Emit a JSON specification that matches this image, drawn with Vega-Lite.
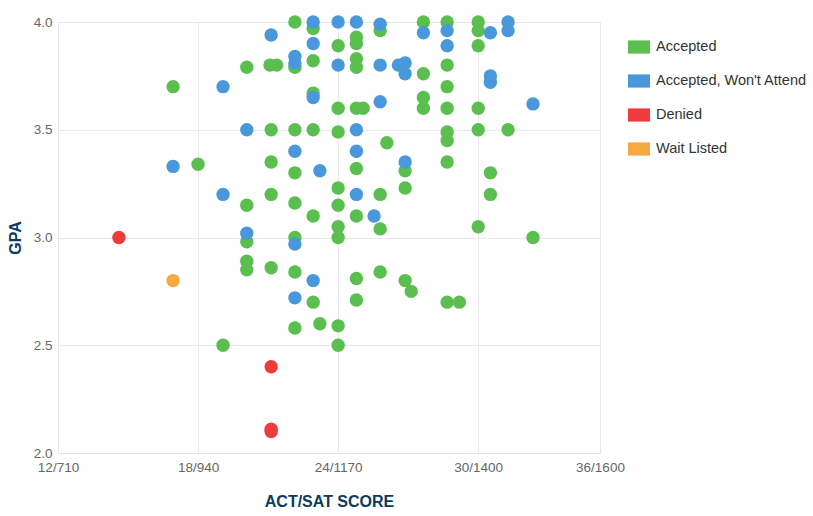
{
  "$schema": "https://vega.github.io/schema/vega-lite/v6.json",
  "width": 542,
  "height": 431,
  "autosize": "none",
  "padding": {"left": 58, "top": 22, "right": 213, "bottom": 63},
  "background": "white",
  "config": {
    "view": {"stroke": null},
    "font": "Liberation Sans"
  },
  "data": {
    "values": [
      {"status": "Accepted", "sat": 899, "gpa": 3.70},
      {"status": "Accepted", "sat": 1020, "gpa": 3.79},
      {"status": "Accepted", "sat": 1058, "gpa": 3.80},
      {"status": "Accepted", "sat": 1069, "gpa": 3.80},
      {"status": "Accepted", "sat": 1099, "gpa": 3.79},
      {"status": "Accepted", "sat": 1099, "gpa": 4.00},
      {"status": "Accepted", "sat": 1129, "gpa": 3.97},
      {"status": "Accepted", "sat": 1129, "gpa": 3.82},
      {"status": "Accepted", "sat": 1129, "gpa": 3.67},
      {"status": "Accepted", "sat": 1060, "gpa": 3.50},
      {"status": "Accepted", "sat": 1099, "gpa": 3.50},
      {"status": "Accepted", "sat": 1129, "gpa": 3.50},
      {"status": "Accepted", "sat": 1060, "gpa": 3.35},
      {"status": "Accepted", "sat": 1099, "gpa": 3.30},
      {"status": "Accepted", "sat": 940, "gpa": 3.34},
      {"status": "Accepted", "sat": 1020, "gpa": 3.15},
      {"status": "Accepted", "sat": 1060, "gpa": 3.20},
      {"status": "Accepted", "sat": 1099, "gpa": 3.16},
      {"status": "Accepted", "sat": 1129, "gpa": 3.10},
      {"status": "Accepted", "sat": 1020, "gpa": 2.98},
      {"status": "Accepted", "sat": 1020, "gpa": 2.89},
      {"status": "Accepted", "sat": 1020, "gpa": 2.85},
      {"status": "Accepted", "sat": 1060, "gpa": 2.86},
      {"status": "Accepted", "sat": 1099, "gpa": 3.00},
      {"status": "Accepted", "sat": 1099, "gpa": 2.84},
      {"status": "Accepted", "sat": 1129, "gpa": 2.70},
      {"status": "Accepted", "sat": 1140, "gpa": 2.60},
      {"status": "Accepted", "sat": 1099, "gpa": 2.58},
      {"status": "Accepted", "sat": 981, "gpa": 2.50},
      {"status": "Accepted", "sat": 1170, "gpa": 3.89},
      {"status": "Accepted", "sat": 1200, "gpa": 3.93},
      {"status": "Accepted", "sat": 1200, "gpa": 3.90},
      {"status": "Accepted", "sat": 1200, "gpa": 3.83},
      {"status": "Accepted", "sat": 1200, "gpa": 3.79},
      {"status": "Accepted", "sat": 1239, "gpa": 3.96},
      {"status": "Accepted", "sat": 1310, "gpa": 4.00},
      {"status": "Accepted", "sat": 1310, "gpa": 3.76},
      {"status": "Accepted", "sat": 1349, "gpa": 4.00},
      {"status": "Accepted", "sat": 1349, "gpa": 3.80},
      {"status": "Accepted", "sat": 1349, "gpa": 3.70},
      {"status": "Accepted", "sat": 1349, "gpa": 3.60},
      {"status": "Accepted", "sat": 1400, "gpa": 4.00},
      {"status": "Accepted", "sat": 1400, "gpa": 3.96},
      {"status": "Accepted", "sat": 1400, "gpa": 3.89},
      {"status": "Accepted", "sat": 1170, "gpa": 3.60},
      {"status": "Accepted", "sat": 1200, "gpa": 3.60},
      {"status": "Accepted", "sat": 1211, "gpa": 3.60},
      {"status": "Accepted", "sat": 1310, "gpa": 3.65},
      {"status": "Accepted", "sat": 1310, "gpa": 3.60},
      {"status": "Accepted", "sat": 1400, "gpa": 3.60},
      {"status": "Accepted", "sat": 1170, "gpa": 3.49},
      {"status": "Accepted", "sat": 1250, "gpa": 3.44},
      {"status": "Accepted", "sat": 1349, "gpa": 3.49},
      {"status": "Accepted", "sat": 1349, "gpa": 3.45},
      {"status": "Accepted", "sat": 1400, "gpa": 3.50},
      {"status": "Accepted", "sat": 1449, "gpa": 3.50},
      {"status": "Accepted", "sat": 1280, "gpa": 3.31},
      {"status": "Accepted", "sat": 1349, "gpa": 3.35},
      {"status": "Accepted", "sat": 1420, "gpa": 3.30},
      {"status": "Accepted", "sat": 1200, "gpa": 3.32},
      {"status": "Accepted", "sat": 1170, "gpa": 3.23},
      {"status": "Accepted", "sat": 1239, "gpa": 3.20},
      {"status": "Accepted", "sat": 1280, "gpa": 3.23},
      {"status": "Accepted", "sat": 1420, "gpa": 3.20},
      {"status": "Accepted", "sat": 1170, "gpa": 3.15},
      {"status": "Accepted", "sat": 1200, "gpa": 3.10},
      {"status": "Accepted", "sat": 1170, "gpa": 3.05},
      {"status": "Accepted", "sat": 1170, "gpa": 3.00},
      {"status": "Accepted", "sat": 1239, "gpa": 3.04},
      {"status": "Accepted", "sat": 1400, "gpa": 3.05},
      {"status": "Accepted", "sat": 1490, "gpa": 3.00},
      {"status": "Accepted", "sat": 1170, "gpa": 2.59},
      {"status": "Accepted", "sat": 1170, "gpa": 2.50},
      {"status": "Accepted", "sat": 1200, "gpa": 2.81},
      {"status": "Accepted", "sat": 1200, "gpa": 2.71},
      {"status": "Accepted", "sat": 1239, "gpa": 2.84},
      {"status": "Accepted", "sat": 1280, "gpa": 2.80},
      {"status": "Accepted", "sat": 1290, "gpa": 2.75},
      {"status": "Accepted", "sat": 1349, "gpa": 2.70},
      {"status": "Accepted", "sat": 1369, "gpa": 2.70},
      {"status": "Accepted, Won't Attend", "sat": 981, "gpa": 3.70},
      {"status": "Accepted, Won't Attend", "sat": 1060, "gpa": 3.94},
      {"status": "Accepted, Won't Attend", "sat": 1099, "gpa": 3.84},
      {"status": "Accepted, Won't Attend", "sat": 1099, "gpa": 3.81},
      {"status": "Accepted, Won't Attend", "sat": 1129, "gpa": 4.00},
      {"status": "Accepted, Won't Attend", "sat": 1129, "gpa": 3.90},
      {"status": "Accepted, Won't Attend", "sat": 1129, "gpa": 3.65},
      {"status": "Accepted, Won't Attend", "sat": 1020, "gpa": 3.50},
      {"status": "Accepted, Won't Attend", "sat": 1099, "gpa": 3.40},
      {"status": "Accepted, Won't Attend", "sat": 1140, "gpa": 3.31},
      {"status": "Accepted, Won't Attend", "sat": 899, "gpa": 3.33},
      {"status": "Accepted, Won't Attend", "sat": 981, "gpa": 3.20},
      {"status": "Accepted, Won't Attend", "sat": 1020, "gpa": 3.02},
      {"status": "Accepted, Won't Attend", "sat": 1099, "gpa": 2.97},
      {"status": "Accepted, Won't Attend", "sat": 1129, "gpa": 2.80},
      {"status": "Accepted, Won't Attend", "sat": 1099, "gpa": 2.72},
      {"status": "Accepted, Won't Attend", "sat": 1170, "gpa": 4.00},
      {"status": "Accepted, Won't Attend", "sat": 1200, "gpa": 4.00},
      {"status": "Accepted, Won't Attend", "sat": 1170, "gpa": 3.80},
      {"status": "Accepted, Won't Attend", "sat": 1239, "gpa": 3.99},
      {"status": "Accepted, Won't Attend", "sat": 1239, "gpa": 3.80},
      {"status": "Accepted, Won't Attend", "sat": 1269, "gpa": 3.80},
      {"status": "Accepted, Won't Attend", "sat": 1280, "gpa": 3.81},
      {"status": "Accepted, Won't Attend", "sat": 1280, "gpa": 3.76},
      {"status": "Accepted, Won't Attend", "sat": 1310, "gpa": 3.95},
      {"status": "Accepted, Won't Attend", "sat": 1349, "gpa": 3.96},
      {"status": "Accepted, Won't Attend", "sat": 1349, "gpa": 3.89},
      {"status": "Accepted, Won't Attend", "sat": 1420, "gpa": 3.95},
      {"status": "Accepted, Won't Attend", "sat": 1449, "gpa": 4.00},
      {"status": "Accepted, Won't Attend", "sat": 1449, "gpa": 3.96},
      {"status": "Accepted, Won't Attend", "sat": 1420, "gpa": 3.75},
      {"status": "Accepted, Won't Attend", "sat": 1420, "gpa": 3.72},
      {"status": "Accepted, Won't Attend", "sat": 1490, "gpa": 3.62},
      {"status": "Accepted, Won't Attend", "sat": 1239, "gpa": 3.63},
      {"status": "Accepted, Won't Attend", "sat": 1200, "gpa": 3.50},
      {"status": "Accepted, Won't Attend", "sat": 1200, "gpa": 3.40},
      {"status": "Accepted, Won't Attend", "sat": 1280, "gpa": 3.35},
      {"status": "Accepted, Won't Attend", "sat": 1200, "gpa": 3.20},
      {"status": "Accepted, Won't Attend", "sat": 1229, "gpa": 3.10},
      {"status": "Denied", "sat": 810, "gpa": 3.00},
      {"status": "Denied", "sat": 1060, "gpa": 2.40},
      {"status": "Denied", "sat": 1060, "gpa": 2.11},
      {"status": "Denied", "sat": 1060, "gpa": 2.10},
      {"status": "Wait Listed", "sat": 899, "gpa": 2.80}
    ]
  },
  "mark": {"type": "point", "shape": "circle", "filled": true, "size": 180, "opacity": 1},
  "encoding": {
    "x": {
      "field": "sat",
      "type": "quantitative",
      "scale": {"domain": [710, 1600], "nice": false, "zero": false},
      "axis": {
        "title": "ACT/SAT SCORE",
        "values": [710, 940, 1170, 1400, 1600],
        "labelExpr": "datum.value == 710 ? '12/710' : datum.value == 940 ? '18/940' : datum.value == 1170 ? '24/1170' : datum.value == 1400 ? '30/1400' : '36/1600'",
        "grid": true,
        "gridColor": "#e6e9ef",
        "domainColor": "#dfe5ee",
        "ticks": false,
        "labelColor": "#666666",
        "labelFontSize": 13.5,
        "labelPadding": 7,
        "labelFlush": false,
        "titleFontSize": 16,
        "titleFontWeight": "bold",
        "titleColor": "#0b3b5e",
        "titlePadding": 20
      }
    },
    "y": {
      "field": "gpa",
      "type": "quantitative",
      "scale": {"domain": [2, 4], "nice": false, "zero": false},
      "axis": {
        "title": "GPA",
        "values": [2, 2.5, 3, 3.5, 4],
        "format": ".1f",
        "grid": true,
        "gridColor": "#e6e9ef",
        "domain": false,
        "ticks": false,
        "labelColor": "#666666",
        "labelFontSize": 13.5,
        "labelPadding": 6,
        "titleFontSize": 16,
        "titleFontWeight": "bold",
        "titleColor": "#0b3b5e",
        "titlePadding": 10
      }
    },
    "color": {
      "field": "status",
      "type": "nominal",
      "scale": {
        "domain": ["Accepted", "Accepted, Won't Attend", "Denied", "Wait Listed"],
        "range": ["#5abf4f", "#4a98dc", "#ef3b3b", "#f7a941"]
      },
      "legend": {
        "title": null,
        "orient": "none",
        "legendX": 570,
        "legendY": 14,
        "symbolType": "M-1,-0.6H1V0.6H-1Z",
        "symbolSize": 484,
        "symbolOpacity": 1,
        "symbolStrokeWidth": 0,
        "labelFontSize": 14.5,
        "labelColor": "#333333",
        "labelOffset": 6,
        "rowPadding": 16,
        "labelLimit": 300
      }
    }
  }
}
